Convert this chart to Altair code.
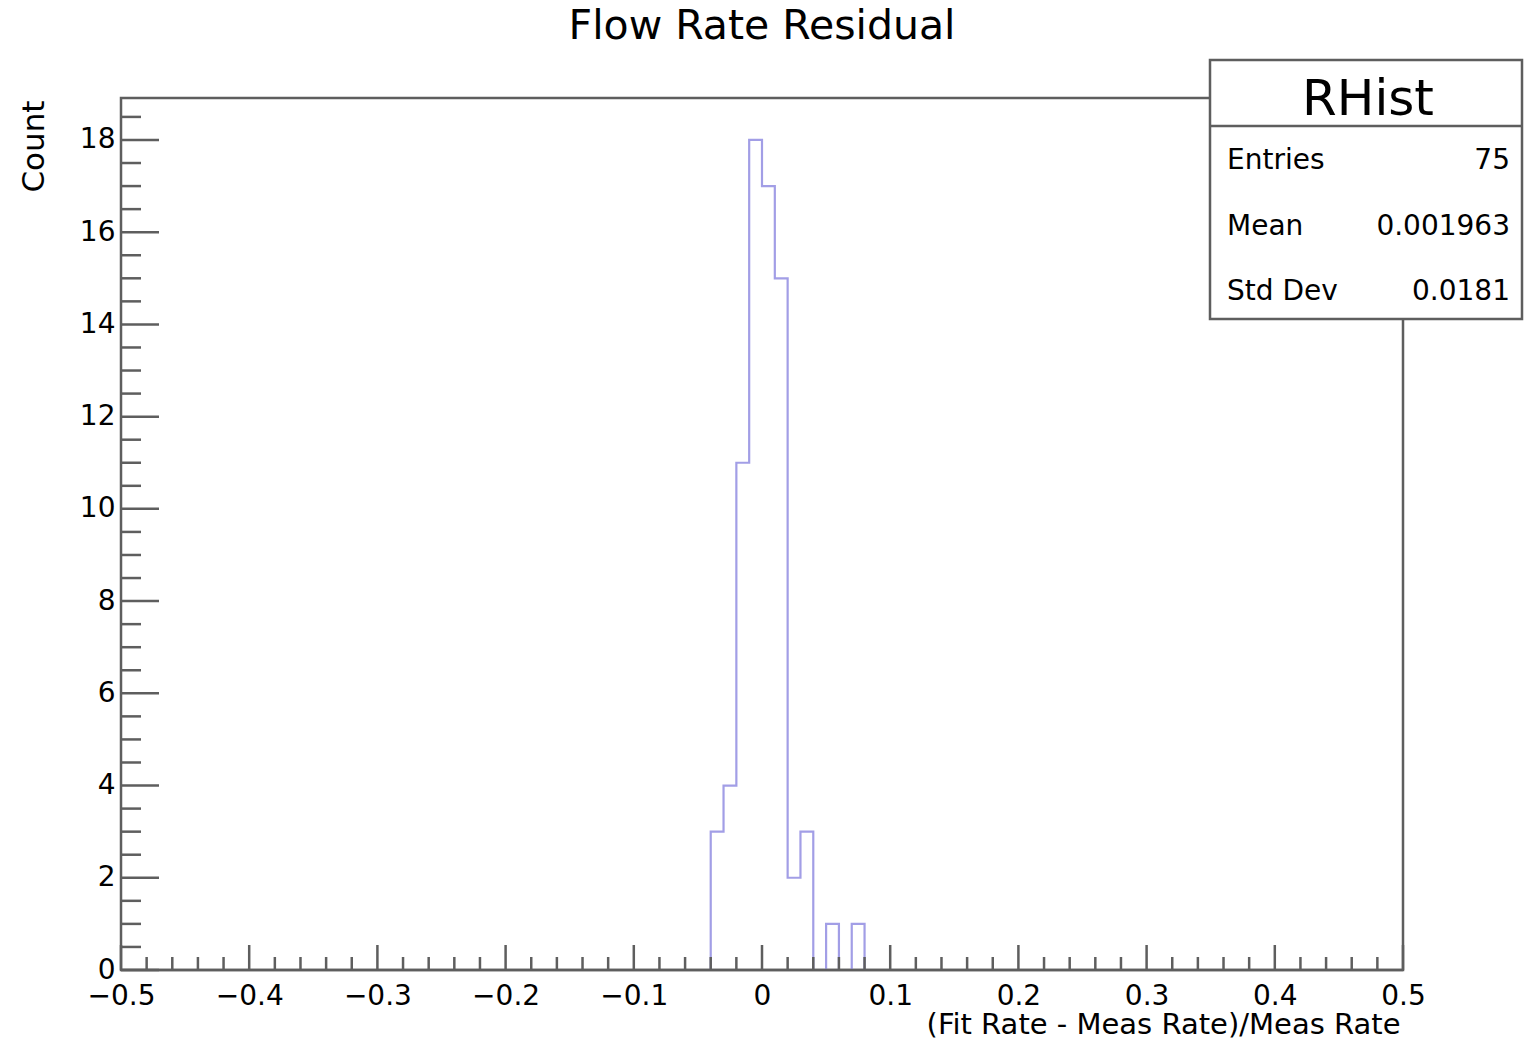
import altair as alt
import pandas as pd

# ---- data ----
bin_edges = [-0.04, -0.03, -0.02, -0.01, 0.0, 0.01, 0.02, 0.03, 0.04, 0.05, 0.06, 0.07, 0.08]
bin_counts = [3, 4, 11, 18, 17, 15, 2, 3, 0, 1, 0, 1]

x_major = [-0.5, -0.4, -0.3, -0.2, -0.1, 0.0, 0.1, 0.2, 0.3, 0.4, 0.5]
x_minor = [round(-0.5 + 0.02 * k, 2) for k in range(51) if k % 5 != 0]
y_major = [0, 2, 4, 6, 8, 10, 12, 14, 16, 18]
y_minor = [k * 0.5 for k in range(38) if k % 4 != 0]

title_text = ["Flow Rate Residual"]
stats_name = ["RHist"]
stats_labels = ["Entries", "Mean", "Std Dev"]
stats_values = ["75", "0.001963", "0.0181"]

FONT = "DejaVu Sans"
GREY = "#5e5e5e"
LINE = "#a29ee6"
W, H = 1282, 872
YMAX = 18.91

# histogram outline vertices built from the bins
xs, ys = [bin_edges[0]], [0]
for i, c in enumerate(bin_counts):
    xs += [bin_edges[i], bin_edges[i + 1]]
    ys += [c, c]
xs.append(bin_edges[-1])
ys.append(0)
hist = pd.DataFrame({"x": xs, "count": ys, "i": list(range(len(xs)))})

xscale = alt.Scale(domain=[-0.5, 0.5], nice=False, zero=False)
yscale = alt.Scale(domain=[0, YMAX], nice=False, zero=True)

xaxis = alt.Axis(
    values=x_major, format=".1~f", ticks=False, tickSize=0, domain=False, grid=False,
    labelFontSize=28, labelPadding=12, labelFlush=False, labelOverlap=False,
    labelColor="black", labelFont=FONT,
    title="(Fit Rate - Meas Rate)/Meas Rate", titleFont=FONT, titleFontSize=29,
    titleFontWeight="normal", titleColor="black", titleX=1279, titleY=63,
    titleAlign="right", titleBaseline="alphabetic", titleAngle=0)
yaxis = alt.Axis(
    values=y_major, format="d", ticks=False, tickSize=0, domain=False, grid=False,
    labelFontSize=28, labelPadding=6, labelFlush=False, labelOverlap=False,
    labelColor="black", labelFont=FONT,
    title="Count", titleFont=FONT, titleFontSize=31, titleFontWeight="normal",
    titleColor="black", titleX=-78, titleY=2, titleAlign="right",
    titleBaseline="alphabetic", titleAngle=270)

line = alt.Chart(hist).mark_line(color=LINE, strokeWidth=2.2).encode(
    x=alt.X("x:Q", scale=xscale, axis=xaxis),
    y=alt.Y("count:Q", scale=yscale, axis=yaxis),
    order="i:Q",
)

one = pd.DataFrame({"a": [0]})

# bottom frame drawn over the zero-height parts of the outline
frame_bottom = alt.Chart(one).mark_rule(color=GREY, strokeWidth=2.5).encode(
    x=alt.value(0), x2=alt.value(W), y=alt.value(H))

def xticks(vals, length):
    return alt.Chart(pd.DataFrame({"x": vals})).mark_rule(color=GREY, strokeWidth=2.5).encode(
        x=alt.X("x:Q", scale=xscale, axis=xaxis), y=alt.value(H), y2=alt.value(H - length))

def yticks(vals, length):
    return alt.Chart(pd.DataFrame({"count": vals})).mark_rule(color=GREY, strokeWidth=2.5).encode(
        y=alt.Y("count:Q", scale=yscale, axis=yaxis), x=alt.value(0), x2=alt.value(length))

title = alt.Chart(pd.DataFrame({"t": title_text})).mark_text(
    font=FONT, fontSize=41, color="black", align="center", baseline="alphabetic").encode(
    text="t:N", x=alt.value(641), y=alt.value(-59))

BX0, BX1 = 1089, 1401
box = alt.Chart(one).mark_rect(fill="white", stroke=GREY, strokeWidth=2.5).encode(
    x=alt.value(BX0), x2=alt.value(BX1), y=alt.value(-38), y2=alt.value(221))
sep = alt.Chart(one).mark_rule(color=GREY, strokeWidth=2.5).encode(
    x=alt.value(BX0), x2=alt.value(BX1), y=alt.value(28))
name = alt.Chart(pd.DataFrame({"t": stats_name})).mark_text(
    font=FONT, fontSize=50, color="black", align="center", baseline="alphabetic").encode(
    text="t:N", x=alt.value((BX0 + BX1) / 2 + 2), y=alt.value(17))

rows_y = [71, 137, 202]
stat_layers = []
for lab, val, yy in zip(stats_labels, stats_values, rows_y):
    stat_layers.append(alt.Chart(pd.DataFrame({"t": [lab]})).mark_text(
        font=FONT, fontSize=28, color="black", align="left", baseline="alphabetic").encode(
        text="t:N", x=alt.value(1106), y=alt.value(yy)))
    stat_layers.append(alt.Chart(pd.DataFrame({"t": [val]})).mark_text(
        font=FONT, fontSize=28, color="black", align="right", baseline="alphabetic").encode(
        text="t:N", x=alt.value(1389), y=alt.value(yy)))

chart = alt.layer(
    line, frame_bottom,
    xticks(x_major, 25), xticks(x_minor, 13),
    yticks(y_major, 38), yticks(y_minor, 20),
    title, box, sep, name, *stat_layers,
).properties(
    width=W, height=H,
    padding={"left": 113, "top": 90, "right": 121, "bottom": 69},
    autosize=alt.AutoSizeParams(type="none"),
    background="white",
).configure_view(stroke=GREY, strokeWidth=2.5)

chart.save("out.html", embed_options={"renderer": "svg", "actions": False})
